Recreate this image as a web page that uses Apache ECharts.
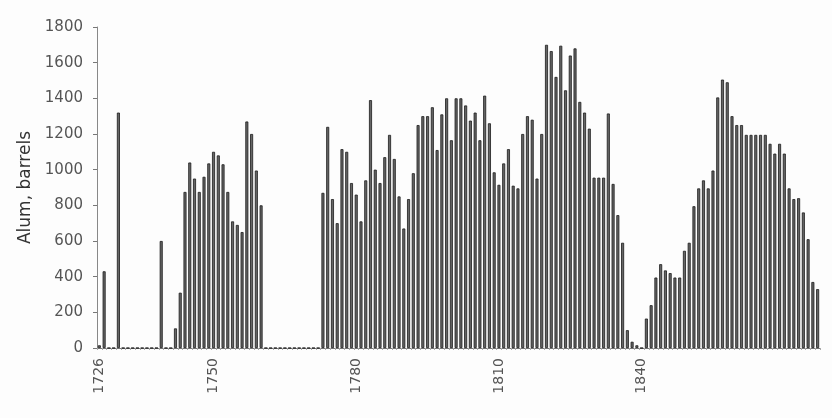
<!DOCTYPE html>
<html>
<head>
<meta charset="utf-8">
<script src="https://cdn.jsdelivr.net/npm/echarts@6/dist/echarts.min.js"></script>
<style>
  html, body { margin: 0; padding: 0; background: #fdfdfd; }
  #chart { width: 832px; height: 418px; }
</style>
</head>
<body>
<div id="chart"></div>
<script>
// First year shown on the category axis
const startYear = 1726;

// Alum output in barrels, one value per year from 1726 to 1877 (0 = no output)
const alum1726_1729 = [15, 430, 0, 0];
const alum1730s = [1320, 0, 0, 0, 0, 0, 0, 0, 0, 600];
const alum1740s = [0, 0, 110, 310, 875, 1040, 950, 875, 960, 1035];
const alum1750s = [1100, 1080, 1030, 875, 710, 690, 650, 1270, 1200, 995];
const alum1760s = [800, 0, 0, 0, 0, 0, 0, 0, 0, 0];
const alum1770s = [0, 0, 0, 870, 1240, 835, 700, 1115, 1100, 925];
const alum1780s = [860, 710, 940, 1390, 1000, 925, 1070, 1195, 1060, 850];
const alum1790s = [670, 835, 980, 1250, 1300, 1300, 1350, 1110, 1310, 1400];
const alum1800s = [1165, 1400, 1400, 1360, 1275, 1320, 1165, 1415, 1260, 985];
const alum1810s = [915, 1035, 1115, 910, 895, 1200, 1300, 1280, 950, 1200];
const alum1820s = [1700, 1665, 1520, 1695, 1445, 1640, 1680, 1380, 1320, 1230];
const alum1830s = [955, 955, 955, 1315, 920, 745, 590, 100, 35, 15];
const alum1840s = [0, 165, 240, 395, 470, 435, 420, 395, 395, 545];
const alum1850s = [590, 795, 895, 940, 895, 995, 1405, 1505, 1490, 1300];
const alum1860s = [1250, 1250, 1195, 1195, 1195, 1195, 1195, 1145, 1090, 1145];
const alum1870_1877 = [1090, 895, 835, 840, 760, 610, 370, 330];

const alumValues = [].concat(
  alum1726_1729, alum1730s, alum1740s, alum1750s, alum1760s, alum1770s,
  alum1780s, alum1790s, alum1800s, alum1810s, alum1820s, alum1830s,
  alum1840s, alum1850s, alum1860s, alum1870_1877
);

// Year categories
const years = alumValues.map((_, i) => String(startYear + i));

// Labelled years on the x axis
const xTickLabels = ['1726', '1750', '1780', '1810', '1840'];

// Y axis
const yMin = 0, yMax = 1800, yStep = 200;
const yAxisTitle = 'Alum, barrels';

const chart = echarts.init(document.getElementById('chart'));
const fontFam = '"DejaVu Sans", "Liberation Sans", sans-serif';

chart.setOption({
  backgroundColor: '#fdfdfd',
  animation: false,
  grid: { left: 97, right: 12, top: 27, bottom: 70 },
  xAxis: {
    type: 'category',
    data: years,
    boundaryGap: true,
    axisLine: { lineStyle: { color: '#777', width: 1 } },
    axisTick: { show: true, interval: 0, length: 2, lineStyle: { color: '#aaa' } },
    axisLabel: {
      interval: (idx, val) => xTickLabels.includes(val),
      rotate: 90,
      margin: 10,
      color: '#555',
      fontFamily: fontFam,
      fontSize: 14
    },
    splitLine: { show: false }
  },
  yAxis: {
    type: 'value',
    min: yMin, max: yMax, interval: yStep,
    name: yAxisTitle,
    nameLocation: 'middle',
    nameGap: 63,
    nameTextStyle: { color: '#333', fontFamily: fontFam, fontSize: 17 },
    axisLine: { show: true, lineStyle: { color: '#888', width: 1 } },
    axisTick: { show: true, length: 4, lineStyle: { color: '#777' } },
    axisLabel: {
      color: '#555', fontFamily: fontFam, fontSize: 15, margin: 14,
      formatter: v => String(v)
    },
    splitLine: { show: false }
  },
  series: [{
    type: 'bar',
    data: alumValues,
    barWidth: 3,
    itemStyle: { color: '#666', borderColor: '#1a1a1a', borderWidth: 0.8 }
  }]
});
</script>
</body>
</html>
